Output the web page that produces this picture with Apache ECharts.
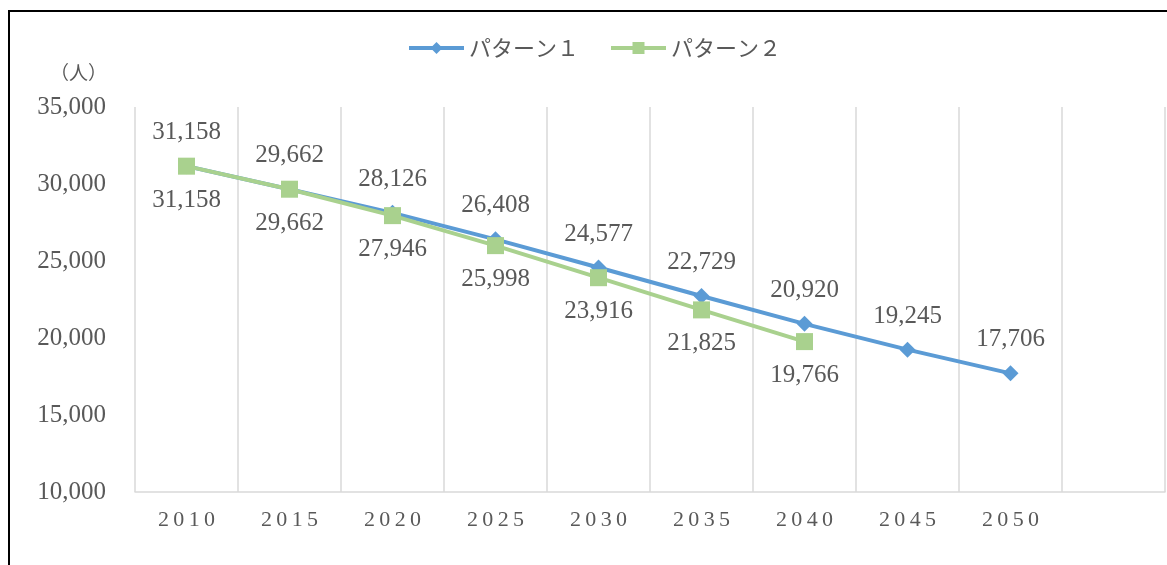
<!DOCTYPE html>
<html>
<head>
<meta charset="utf-8">
<script src="https://cdn.jsdelivr.net/npm/echarts@6/dist/echarts.min.js"></script>
<style>
  html, body { margin: 0; padding: 0; background: #fff; }
  #chart { width: 1167px; height: 565px; }
</style>
</head>
<body>
<div id="chart"></div>
<script>
// 年次（最後の1区分は空欄）
const years = ['2010', '2015', '2020', '2025', '2030', '2035', '2040', '2045', '2050', ''];
const pattern1 = [31158, 29662, 28126, 26408, 24577, 22729, 20920, 19245, 17706, null];
const pattern2 = [31158, 29662, 27946, 25998, 23916, 21825, 19766, null, null, null];
const yTicks = { min: 10000, max: 35000, interval: 5000 };

const serif = "'Liberation Serif', 'Noto Sans CJK JP', serif";
const gray = '#595959';
const fmt = v => v.toLocaleString('en-US');

const chart = echarts.init(document.getElementById('chart'));
chart.setOption({
  animation: false,
  textStyle: { fontFamily: serif },
  graphic: [
    {
      type: 'rect',
      shape: { x: 9, y: 11, width: 1300, height: 700 },
      style: { fill: 'none', stroke: '#000', lineWidth: 2 }
    },
    {
      type: 'text',
      left: 50,
      top: 63,
      style: { text: '（人）', fill: gray, font: "19px 'Noto Sans CJK JP'" }
    }
  ],
  legend: {
    top: 32,
    left: 402,
    itemWidth: 55,
    itemHeight: 15,
    itemGap: 30,
    lineStyle: { width: 4 },
    textStyle: { color: gray, fontSize: 22, fontFamily: "'Noto Sans CJK JP'" },
    data: ['パターン１', 'パターン２']
  },
  grid: { left: 135, right: 2, top: 107, bottom: 73 },
  xAxis: {
    type: 'category',
    data: years,
    boundaryGap: true,
    axisLine: { lineStyle: { color: '#d9d9d9', width: 1.5 } },
    axisTick: { show: false },
    splitLine: { show: true, lineStyle: { color: '#d9d9d9', width: 1.5 } },
    axisLabel: {
      color: gray,
      fontSize: 22,
      margin: 17,
      formatter: v => v.split('').join('\u2009')
    }
  },
  yAxis: {
    type: 'value',
    min: yTicks.min,
    max: yTicks.max,
    interval: yTicks.interval,
    axisLine: { show: false },
    axisTick: { show: false },
    splitLine: { show: false },
    axisLabel: { color: gray, fontSize: 25, margin: 29, formatter: fmt }
  },
  series: [
    {
      name: 'パターン１',
      type: 'line',
      data: pattern1,
      symbol: 'diamond',
      symbolSize: 16,
      lineStyle: { color: '#5b9bd5', width: 4 },
      itemStyle: { color: '#5b9bd5' },
      label: {
        show: true,
        position: 'top',
        distance: 13,
        color: gray,
        fontSize: 25,
        formatter: p => fmt(p.value)
      },
      z: 2
    },
    {
      name: 'パターン２',
      type: 'line',
      data: pattern2,
      symbol: 'rect',
      symbolSize: 17,
      lineStyle: { color: '#a9d18e', width: 4 },
      itemStyle: { color: '#a9d18e' },
      label: {
        show: true,
        position: 'bottom',
        distance: 13,
        color: gray,
        fontSize: 25,
        formatter: p => fmt(p.value)
      },
      z: 3
    }
  ]
});
</script>
</body>
</html>
